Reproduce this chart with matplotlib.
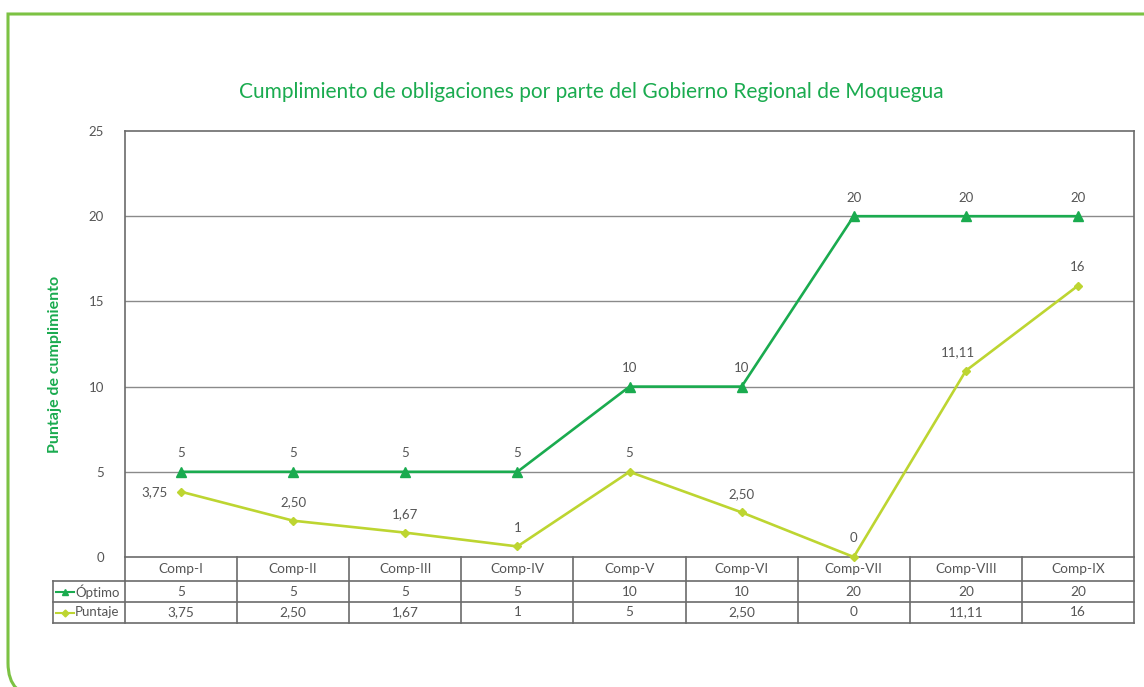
import matplotlib
matplotlib.use("Agg")
import matplotlib.pyplot as plt
from matplotlib.patches import PathPatch
from matplotlib.path import Path
from matplotlib.transforms import IdentityTransform
from matplotlib.lines import Line2D

# ---- data ----
categories = ["Comp-I", "Comp-II", "Comp-III", "Comp-IV", "Comp-V",
              "Comp-VI", "Comp-VII", "Comp-VIII", "Comp-IX"]
optimo = [5, 5, 5, 5, 10, 10, 20, 20, 20]
optimo_labels = ["5", "5", "5", "5", "10", "10", "20", "20", "20"]
puntaje = [3.83, 2.13, 1.43, 0.62, 5, 2.62, 0, 10.93, 15.92]
puntaje_labels = ["3,75", "2,50", "1,67", "1", "5", "2,50", "0", "11,11", "16"]
series_names = ["Óptimo", "Puntaje"]
yticks = [0, 5, 10, 15, 20, 25]
title = "Cumplimiento de obligaciones por parte del Gobierno Regional de Moquegua"
ylabel = "Puntaje de cumplimiento"

# ---- style ----
FONT = ["Lato", "DejaVu Sans"]
plt.rcParams["font.family"] = FONT
C_OPT = "#1aab4f"
C_PUN = "#bdd531"
C_FRAME = "#7cc243"
C_TXT = "#555555"
C_GRID = "#8a8a8a"
C_AX = "#6b6b6b"

W, H = 1144, 687
fig = plt.figure(figsize=(W / 100, H / 100), dpi=100)

# frame: square top-left, rounded bottom-left corner (display pixels)
r = 34
verts = [(1300, H - 14), (8, H - 14), (8, -10 + r), (8, -10), (8 + r, -10), (1300, -10)]
codes = [Path.MOVETO, Path.LINETO, Path.LINETO, Path.CURVE3, Path.CURVE3, Path.LINETO]
fig.patches.append(PathPatch(Path(verts, codes), transform=IdentityTransform(),
                             fill=False, edgecolor=C_FRAME, linewidth=2.2, zorder=0))

L, R, T, B = 125, 1134, 131, 557
ax = fig.add_axes([L / W, 1 - B / H, (R - L) / W, (B - T) / H])
ax.set_xlim(-0.5, len(categories) - 0.5)
ax.set_ylim(0, 25)
ax.set_yticks(yticks)
ax.set_yticklabels([str(t) for t in yticks])
ax.set_xticks([])
ax.tick_params(axis="y", length=0, pad=15, labelsize=9.5, labelcolor=C_TXT)
for s in ax.spines.values():
    s.set_color(C_AX)
    s.set_linewidth(1.2)
for t in yticks[1:-1]:
    ax.axhline(t, color=C_GRID, lw=1.0, zorder=1)

x = list(range(len(categories)))
ax.plot(x, optimo, color=C_OPT, lw=1.9, marker="^", ms=6.5, zorder=3, clip_on=False)
ax.plot(x, puntaje, color=C_PUN, lw=1.9, marker="D", ms=4, zorder=3, clip_on=False)

for xi, v, lab in zip(x, optimo, optimo_labels):
    ax.annotate(lab, (xi, v), xytext=(0, 9), textcoords="offset points",
                ha="center", va="bottom", fontsize=9.5, color=C_TXT)
for i, (xi, v, lab) in enumerate(zip(x, puntaje, puntaje_labels)):
    if i == 0:
        ax.annotate(lab, (xi, v), xytext=(-10, 0), textcoords="offset points",
                    ha="right", va="center", fontsize=9.5, color=C_TXT)
    else:
        dx = -6 if i == 7 else 0
        ax.annotate(lab, (xi, v), xytext=(dx, 9), textcoords="offset points",
                    ha="center", va="bottom", fontsize=9.5, color=C_TXT)

# title & y label
fig.text(0.5 * (240 + 943) / W, 1 - 92 / H, title, ha="center", va="center",
         fontsize=15.0, color=C_OPT)
fig.text(55 / W, 1 - 364 / H, ylabel, ha="center", va="center", rotation=90,
         fontsize=11.5, fontweight="bold", color=C_OPT)

# ---- data table ----
def ay(ypix):
    return (B - ypix) / (B - T)

def axx(xpix):
    return (xpix - L) / (R - L)

row_edges = [557, 581, 602, 623]
left_col = 53
lk = dict(color=C_AX, lw=1.2, clip_on=False, transform=ax.transAxes)
ax.plot([0, 1], [ay(row_edges[1])] * 2, **lk)
for ye in row_edges[2:]:
    ax.plot([axx(left_col), 1], [ay(ye)] * 2, **lk)
ax.plot([axx(left_col), 0], [ay(row_edges[1])] * 2, **lk)
ax.plot([axx(left_col)] * 2, [ay(row_edges[1]), ay(row_edges[3])], **lk)
n = len(categories)
for k in range(n + 1):
    xf = k / n
    ax.plot([xf, xf], [0, ay(row_edges[3])], **lk)

def ymid(i):
    return ay(0.5 * (row_edges[i] + row_edges[i + 1]))

for k, cat in enumerate(categories):
    xc = (k + 0.5) / n
    ax.text(xc, ymid(0), cat, transform=ax.transAxes, ha="center", va="center",
            fontsize=9.8, color=C_TXT)
    ax.text(xc, ymid(1), optimo_labels[k], transform=ax.transAxes, ha="center",
            va="center", fontsize=9.8, color=C_TXT)
    ax.text(xc, ymid(2), puntaje_labels[k], transform=ax.transAxes, ha="center",
            va="center", fontsize=9.8, color=C_TXT)

for i, (name, col, mk, ms) in enumerate([(series_names[0], C_OPT, "^", 5),
                                         (series_names[1], C_PUN, "D", 3.5)]):
    yc = ymid(i + 1)
    ax.add_line(Line2D([axx(56), axx(74)], [yc, yc], color=col, lw=1.5,
                       transform=ax.transAxes, clip_on=False))
    ax.add_line(Line2D([axx(65)], [yc], color=col, marker=mk, ms=ms, lw=0,
                       transform=ax.transAxes, clip_on=False))
    ax.text(axx(75), yc, name, transform=ax.transAxes, ha="left", va="center",
            fontsize=9.5, color=C_TXT)

fig.savefig("out.png", dpi=100)
